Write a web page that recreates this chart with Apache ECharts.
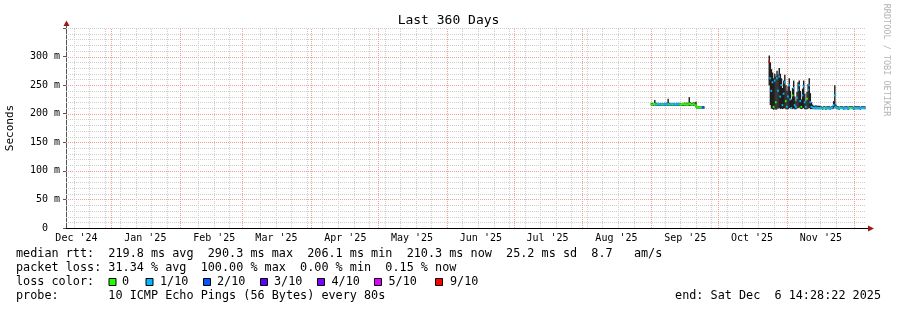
<!DOCTYPE html>
<html><head><meta charset="utf-8">
<script src="https://cdn.jsdelivr.net/npm/echarts@6/dist/echarts.min.js"></script>
<style>html,body{margin:0;padding:0;background:#fff}#c{width:897px;height:310px}</style>
</head><body><div id="c"></div>
<script>
// ---------- data ----------
const graphStart = '2024-12-11T14:28:22Z';
const graphEnd   = '2025-12-06T14:28:22Z';
const stepHours = 12;

const monthStarts = ['2024-12-01','2025-01-01','2025-02-01','2025-03-01','2025-04-01','2025-05-01',
  '2025-06-01','2025-07-01','2025-08-01','2025-09-01','2025-10-01','2025-11-01','2025-12-01'];
const monthLabels = ["Dec '24","Jan '25","Feb '25","Mar '25","Apr '25","May '25",
  "Jun '25","Jul '25","Aug '25","Sep '25","Oct '25","Nov '25","Dec '25"];
const yTicks = [0,50,100,150,200,250,300];

// segment 1 (ms), 12h steps
const seg1Start = '2025-09-01T00:00:00Z';
const seg1Median = [216,216,217,217,216,216,217,216,216,217,216,216,217,216,216,217,216,216,217,216,217,216,216,217,216,217,216,216,217,217,216,217,216,216,218,217,216,216,217,216,214,212,211,211,211,211,211,211];
const seg1Low    = [214,214,214,215,214,214,214,214,214,214,214,214,214,214,214,214,214,214,214,214,214,214,214,214,214,214,214,214,214,214,214,214,214,214,214,214,214,214,214,214,211,209,209,209,209,209,209,209];
const seg1High   = [219,219,219,224,219,218,219,218,218,219,218,218,219,218,219,226,219,218,219,218,219,218,218,219,218,219,218,218,219,219,219,219,219,219,229,220,219,219,220,219,221,214,213,213,213,213,213,213];
const seg1Loss   = [0,0,0,0,1,1,0,1,1,1,0,1,1,1,1,1,0,1,1,0,1,1,1,1,1,1,0,0,0,0,0,0,0,0,0,0,0,0,0,0,0,0,0,0,0,0,2,2];

// segment 2 (ms), 12h steps
const seg2Start = '2025-10-24T00:00:00Z';
const seg2Median = [291,262,240,255,212,258,220,262,240,265,230,250,215,235,255,222,212,230,250,225,210,232,245,215,212,228,242,250,222,212,232,248,220,212,226,242,250,220,212,211,210,210,211,210,210,210,
  210,210,209,210,210,209,210,210,210,209,210,211,215,232,212,210,210,209,210,210,210,209,210,210,210,209,210,210,210,210,209,210,210,210,210,210,209,210,210,210,210];
const seg2Low    = [250,215,209,208,207,209,207,208,209,210,208,209,208,209,210,208,208,208,210,209,208,208,209,208,208,209,210,211,209,208,209,210,208,208,208,209,210,208,208,208,208,208,208,208,208,208,
  208,208,207,208,208,207,208,208,208,207,208,208,209,212,209,208,208,207,208,208,208,207,208,208,208,207,208,208,208,208,207,208,208,208,208,208,207,208,208,208,208];
const seg2High   = [302,290,278,272,262,270,265,275,268,280,270,262,245,258,268,250,240,248,262,240,225,245,258,230,222,238,255,258,240,225,244,258,235,222,238,252,262,236,220,216,214,214,215,214,214,214,
  213,213,212,213,213,212,213,213,213,212,213,214,222,250,216,213,213,212,213,213,213,212,213,213,213,212,213,213,213,213,212,213,213,213,213,213,212,213,213,213,213];
const seg2Loss   = [9,1,1,1,0,1,0,1,1,1,1,1,1,1,1,0,1,1,1,1,1,0,1,1,1,1,1,1,1,0,1,1,1,1,0,1,1,1,1,1,1,1,1,1,1,1,
  1,1,1,1,0,1,1,1,1,1,1,1,1,1,1,1,1,1,0,1,1,1,1,1,1,1,1,0,0,1,1,1,1,1,1,1,1,1,1,1,1];

const lossLabels = ['0','1/10','2/10','3/10','4/10','5/10','9/10'];
const lossColors = ['#26ff00','#00b8ff','#0059ff','#5e00ff','#7e00ff','#dd00ff','#ff0000'];

const statLines = [
  'median rtt:  219.8 ms avg  290.3 ms max  206.1 ms min  210.3 ms now  25.2 ms sd  8.7   am/s',
  'packet loss: 31.34 % avg  100.00 % max  0.00 % min  0.15 % now'
];
const probeLine = 'probe:       10 ICMP Echo Pings (56 Bytes) every 80s';
const endLine = 'end: Sat Dec  6 14:28:22 2025';

// ---------- build ----------
const T0 = Date.parse(graphStart), T1 = Date.parse(graphEnd);
const STEP = stepHours * 3600000;
const DAYMS = 86400000;
const YMAX = 350;
function lossBucket(l){ if (l<=0) return 0; if (l<=5) return l; return 6; }
function build(start, med, lo, hi, loss){
  const s = Date.parse(start);
  return med.map((m,i)=>[s + i*STEP, m, lo[i], hi[i], loss[i]]);
}
const pts = build(seg1Start, seg1Median, seg1Low, seg1High, seg1Loss)
  .concat(build(seg2Start, seg2Median, seg2Low, seg2High, seg2Loss));

const MAJOR = '#f39c9c', MINOR = '#cecece';
const vGrid = [];
const monthT = monthStarts.map(d=>Date.parse(d+'T00:00:00Z')).filter(t=>t>T0&&t<T1);
for (let t = Date.parse('2024-12-15T00:00:00Z'); t < T1; t += 7*DAYMS) {
  if (!monthT.some(m=>Math.abs(m-t)<1.5*DAYMS)) vGrid.push([t,0]);
}
monthT.forEach(t=>vGrid.push([t,1]));
const hGrid = [];
for (let v = 10; v <= YMAX; v += 10) if (v % 50 !== 0 || v === YMAX) hGrid.push([v,0]);
for (let v = 50; v < YMAX; v += 50) hGrid.push([v,1]);

const LABEL_SHIFT = 15.3*DAYMS;
const labelVals = monthStarts.map(d=>Date.parse(d+'T00:00:00Z') + LABEL_SHIFT).filter(t=>t>T0&&t<T1);
function labelFor(v){
  let best=0, bd=Infinity;
  monthStarts.forEach((d,i)=>{ const t=Date.parse(d+'T00:00:00Z')+LABEL_SHIFT; const dd=Math.abs(t-v); if(dd<bd){bd=dd;best=i;} });
  return monthLabels[best];
}

const MONO = '"DejaVu Sans Mono", monospace';
const chart = echarts.init(document.getElementById('c'));

const graphics = [];
statLines.forEach((s,i)=>graphics.push({type:'text', x:16, y:254+14*i, style:{text:s, font:'11.8px '+MONO, fill:'#000', verticalAlign:'middle'}}));
graphics.push({type:'text', x:16, y:282, style:{text:'loss color:', font:'11.8px '+MONO, fill:'#000', verticalAlign:'middle'}});
const boxX = [108.5,145.5,203,260,317,374,435];
const txtX = [122,160,217,274,331.5,388.5,450];
lossLabels.forEach((l,i)=>{
  graphics.push({type:'rect', shape:{x:boxX[i]+0.5, y:278.5, width:7, height:7}, style:{fill:lossColors[i], stroke:'#000', lineWidth:1}});
  graphics.push({type:'text', x:txtX[i], y:282, style:{text:l, font:'11.8px '+MONO, fill:'#000', verticalAlign:'middle'}});
});
graphics.push({type:'text', x:16, y:296, style:{text:probeLine, font:'11.8px '+MONO, fill:'#000', verticalAlign:'middle'}});
graphics.push({type:'text', x:881, y:296, style:{text:endLine, font:'11.8px '+MONO, fill:'#000', align:'right', verticalAlign:'middle'}});
graphics.push({type:'text', x:886, y:60, rotation:-Math.PI/2, style:{text:'RRDTOOL / TOBI OETIKER', font:'8.5px '+MONO, fill:'#b4b4b4', align:'center', verticalAlign:'middle'}});
graphics.push({type:'line', shape:{x1:66.5,y1:28,x2:66.5,y2:25}, style:{stroke:'#555',lineWidth:1}});
graphics.push({type:'polygon', shape:{points:[[63.5,26],[69.5,26],[66.5,20.5]]}, style:{fill:'#9a1a1a'}});
graphics.push({type:'line', shape:{x1:866,y1:228.5,x2:869,y2:228.5}, style:{stroke:'#000',lineWidth:1}});
graphics.push({type:'polygon', shape:{points:[[868,225.5],[868,231.5],[874,228.5]]}, style:{fill:'#9a1a1a'}});

chart.setOption({
  animation:false,
  backgroundColor:'#fff',
  title:{text:'Last 360 Days', left:'center', top:9, textStyle:{fontFamily:MONO, fontSize:13, fontWeight:'normal', color:'#000'}},
  grid:{left:66, top:28, width:800, height:200, containLabel:false, outerBoundsMode:'none'},
  xAxis:{type:'value', min:T0, max:T1,
    axisLine:{show:true, lineStyle:{color:'#000', width:1}},
    axisTick:{show:false},
    splitLine:{show:false},
    axisLabel:{customValues:labelVals, formatter:(v)=>labelFor(v), fontFamily:MONO, fontSize:10, color:'#000', margin:5}
  },
  yAxis:{type:'value', min:0, max:YMAX, interval:50,
    name:'Seconds', nameLocation:'middle', nameGap:50, nameRotate:90,
    nameTextStyle:{fontFamily:MONO, fontSize:11, color:'#000'},
    axisLine:{show:true, lineStyle:{color:'#555'}},
    axisTick:{show:true, length:3, lineStyle:{color:'#555'}},
    axisLabel:{fontFamily:MONO, fontSize:10, color:'#000', margin:6,
      formatter:(v)=> (v===0?'0  ':(yTicks.indexOf(v)>=0? v+' m' : ''))},
    splitLine:{show:false}
  },
  graphic:graphics,
  series:[
    {type:'custom', silent:true, z:1, data:hGrid,
      renderItem:(p,api)=>{
        const v=api.value(0), major=api.value(1);
        const a=api.coord([T0,v]), b=api.coord([T1,v]);
        const y=Math.round(a[1])+0.5;
        return {type:'line', shape:{x1:a[0],y1:y,x2:b[0],y2:y}, style:{stroke: major? MAJOR:MINOR, lineWidth:1, lineDash:[1,1]}};
      }},
    {type:'custom', silent:true, z:1, data:vGrid,
      renderItem:(p,api)=>{
        const t=api.value(0), major=api.value(1);
        const a=api.coord([t,0]), b=api.coord([t,YMAX]);
        const x=Math.round(a[0])+0.5;
        return {type:'line', shape:{x1:x,y1:a[1],x2:x,y2:b[1]}, style:{stroke: major? MAJOR:MINOR, lineWidth:1, lineDash:[1,1]}};
      }},
    {type:'custom', silent:true, z:3, data:pts, encode:{x:0, y:[2,3]},
      renderItem:(p,api)=>{
        const t=api.value(0), lo=api.value(2), hi=api.value(3);
        const a=api.coord([t,lo]), b=api.coord([t,hi]);
        const w=api.size([STEP,0])[0];
        return {type:'rect', shape:{x:a[0]-w/2, y:b[1], width:w+0.3, height:Math.max(1,a[1]-b[1])}, style:{fill:'#1e1e1e'}};
      }},
    {type:'custom', silent:true, z:4, data:pts, encode:{x:0, y:1},
      renderItem:(p,api)=>{
        const t=api.value(0), m=api.value(1), loss=api.value(4);
        const w=api.size([STEP,0])[0];
        const c=api.coord([t,m]);
        return {type:'rect', shape:{x:c[0]-w/2-0.3, y:c[1]-1, width:w+0.6, height:2},
          style:{fill:lossColors[lossBucket(loss)]}};
      }}
  ]
});
</script></body></html>
